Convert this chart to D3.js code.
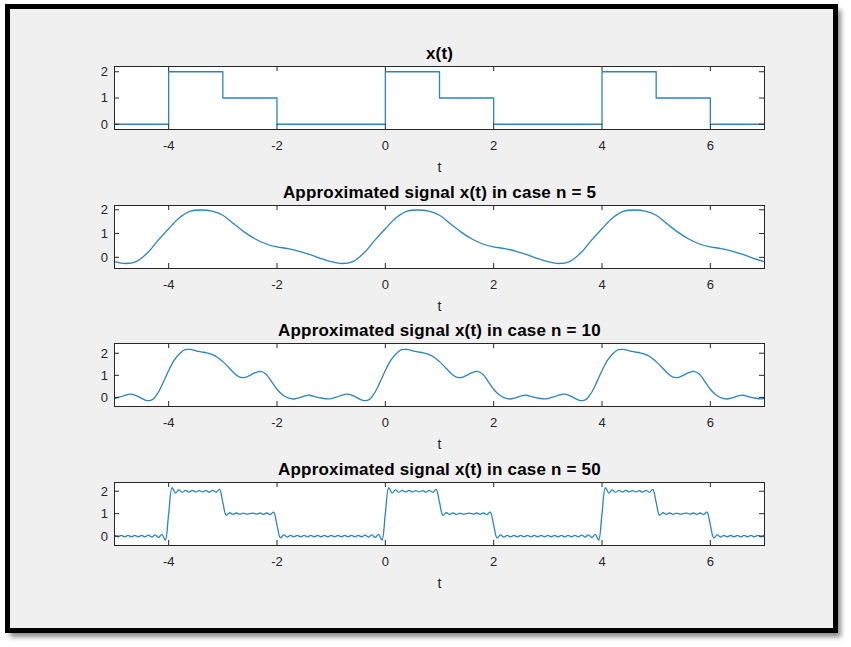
<!DOCTYPE html>
<html>
<head>
<meta charset="utf-8">
<script src="https://cdnjs.cloudflare.com/ajax/libs/d3/7.8.5/d3.min.js"></script>
<style>
	html, body { margin: 0; padding: 0; background: #fff; }
	svg { display: block; }
	text { font-family: "Liberation Sans", Arial, Helvetica, sans-serif; }
</style>
</head>
<body>
<div class="chart"></div>
<script>
(function (){

	// Tick values shared by all four panels
	var xTicks = [-4, -2, 0, 2, 4, 6];
	var yTicks = [0, 1, 2];

	var titles = [
		"x(t)",
		"Approximated signal x(t) in case n = 5",
		"Approximated signal x(t) in case n = 10",
		"Approximated signal x(t) in case n = 50"
	];

	// y limits
	var yLimits = [[-0.2, 2.2], [-0.47, 2.18], [-0.41, 2.44], [-0.42, 2.39]];

	// x(t): breakpoints and the level that starts at each one
	var signalBreaks = [-5, -4, -3, -2, 0, 1, 2, 4, 5, 6, 7];
	var signalLevels = [0, 2, 1, 0, 2, 1, 0, 2, 1, 0, 0];

	// n = 5, sampled every 0.2 from t = -5
	var approx5Start = -5, approx5Step = 0.2;
	var approx5 = [
		-0.18, -0.26, -0.18, 0.17, 0.70,
		1.20, 1.66, 1.94, 1.99, 1.94, 1.77, 1.41, 1.06, 0.77, 0.56,
		0.44, 0.37, 0.26, 0.12, -0.04, -0.18, -0.26, -0.18, 0.17, 0.70,
		1.20, 1.66, 1.94, 1.99, 1.94, 1.77, 1.41, 1.06, 0.77, 0.56,
		0.44, 0.37, 0.26, 0.12, -0.04, -0.18, -0.26, -0.18, 0.17, 0.70,
		1.20, 1.66, 1.94, 1.99, 1.94, 1.77, 1.41, 1.06, 0.77, 0.56,
		0.44, 0.37, 0.26, 0.12, -0.04, -0.18
	];

	// n = 10, sampled every 0.1 from t = -5
	var approx10Start = -5, approx10Step = 0.1;
	var approx10 = [
		-0.05, 0.02, 0.10, 0.15, 0.08, -0.04, -0.14, -0.10, 0.20, 0.68,
		1.22, 1.68, 1.98, 2.16, 2.17, 2.11, 2.06, 2.02, 1.95, 1.82,
		1.62, 1.38, 1.12, 0.93, 0.90, 1.00, 1.12, 1.18, 1.05, 0.72,
		0.37, 0.12, -0.02, -0.07, -0.02, 0.06, 0.10, 0.04, -0.02, -0.06,
		-0.05, 0.02, 0.10, 0.15, 0.08, -0.04, -0.14, -0.10, 0.20, 0.68,
		1.22, 1.68, 1.98, 2.16, 2.17, 2.11, 2.06, 2.02, 1.95, 1.82,
		1.62, 1.38, 1.12, 0.93, 0.90, 1.00, 1.12, 1.18, 1.05, 0.72,
		0.37, 0.12, -0.02, -0.07, -0.02, 0.06, 0.10, 0.04, -0.02, -0.06,
		-0.05, 0.02, 0.10, 0.15, 0.08, -0.04, -0.14, -0.10, 0.20, 0.68,
		1.22, 1.68, 1.98, 2.16, 2.17, 2.11, 2.06, 2.02, 1.95, 1.82,
		1.62, 1.38, 1.12, 0.93, 0.90, 1.00, 1.12, 1.18, 1.05, 0.72,
		0.37, 0.12, -0.02, -0.07, -0.02, 0.06, 0.10, 0.04, -0.02, -0.06,
		-0.05
	];

	// n = 50, sampled every 1/16 from t = -5
	var approx50Start = -5, approx50Step = 0.0625;
	var approx50 = [
		0.03, -0.03, 0.03, -0.03, 0.03, -0.03, 0.03, -0.03, 0.03, -0.03, 0.04, -0.04, 0.05, -0.06, 0.08, -0.18,
		1.00, 2.16, 1.92, 2.06, 1.95, 2.04, 1.96, 2.04, 1.97, 2.03, 1.97, 2.03, 1.96, 2.04, 1.95, 2.08,
		1.50, 0.93, 1.04, 0.97, 1.03, 0.97, 1.02, 0.98, 1.00, 1.02, 0.98, 1.03, 0.97, 1.03, 0.96, 1.07,
		0.50, -0.08, 0.05, -0.04, 0.03, -0.03, 0.03, -0.03, 0.03, -0.03, 0.03, -0.03, 0.03, -0.03, 0.03, -0.03,
		0.03, -0.03, 0.03, -0.03, 0.03, -0.03, 0.03, -0.03, 0.03, -0.03, 0.04, -0.04, 0.05, -0.06, 0.08, -0.18,
		1.00, 2.16, 1.92, 2.06, 1.95, 2.04, 1.96, 2.04, 1.97, 2.03, 1.97, 2.03, 1.96, 2.04, 1.95, 2.08,
		1.50, 0.93, 1.04, 0.97, 1.03, 0.97, 1.02, 0.98, 1.00, 1.02, 0.98, 1.03, 0.97, 1.03, 0.96, 1.07,
		0.50, -0.08, 0.05, -0.04, 0.03, -0.03, 0.03, -0.03, 0.03, -0.03, 0.03, -0.03, 0.03, -0.03, 0.03, -0.03,
		0.03, -0.03, 0.03, -0.03, 0.03, -0.03, 0.03, -0.03, 0.03, -0.03, 0.04, -0.04, 0.05, -0.06, 0.08, -0.18,
		1.00, 2.16, 1.92, 2.06, 1.95, 2.04, 1.96, 2.04, 1.97, 2.03, 1.97, 2.03, 1.96, 2.04, 1.95, 2.08,
		1.50, 0.93, 1.04, 0.97, 1.03, 0.97, 1.02, 0.98, 1.00, 1.02, 0.98, 1.03, 0.97, 1.03, 0.96, 1.07,
		0.50, -0.08, 0.05, -0.04, 0.03, -0.03, 0.03, -0.03, 0.03, -0.03, 0.03, -0.03, 0.03, -0.03, 0.03, -0.03,
		0.03
	];

	// Page and panel geometry
	var width = 851, height = 647;
	var plotLeft = 114, plotWidth = 650, plotHeight = 63;
	var plotTops = [66, 205, 343, 482];
	var tickLen = 5;
	var axisColor = "#262626", lineColor = "#2a84c8";

	function sampled(values, start, step){
		return values.map(function(v, k){ return { t: start + k * step, v: v }; });
	}

	var series = [
		{ points: signalBreaks.map(function(t, k){ return { t: t, v: signalLevels[k] }; }), curve: d3.curveStepAfter },
		{ points: sampled(approx5, approx5Start, approx5Step), curve: d3.curveCatmullRom },
		{ points: sampled(approx10, approx10Start, approx10Step), curve: d3.curveCatmullRom },
		{ points: sampled(approx50, approx50Start, approx50Step), curve: d3.curveCatmullRom }
	];

	var svg = d3.select(".chart")
		.append("svg")
		.attr("width", width)
		.attr("height", height);

	var defs = svg.append("defs");

	// Soft shadow behind the framed figure
	defs.append("filter")
		.attr("id", "shadow")
		.attr("x", "-5%").attr("y", "-5%").attr("width", "110%").attr("height", "110%")
		.append("feGaussianBlur")
		.attr("stdDeviation", 2.5);

	svg.append("rect")
		.attr("x", 10).attr("y", 10)
		.attr("width", 831).attr("height", 627)
		.attr("fill", "#000")
		.attr("opacity", 0.45)
		.attr("filter", "url(#shadow)");

	svg.append("rect")
		.attr("x", 7.5).attr("y", 6.5)
		.attr("width", 828).attr("height", 624)
		.attr("fill", "#f0f0f0")
		.attr("stroke", "#000")
		.attr("stroke-width", 5);

	// Horizontal scale, the same for every panel
	var xScale = d3.scaleLinear()
		.domain([-5, 7])
		.range([0, plotWidth]);

	function drawPanel(i){
		var yScale = d3.scaleLinear()
			.domain(yLimits[i])
			.range([plotHeight, 0]);

		var g = svg.append("g")
			.attr("transform", "translate(" + plotLeft + "," + plotTops[i] + ")");

		g.append("rect")
			.attr("x", 0.5).attr("y", 0.5)
			.attr("width", plotWidth).attr("height", plotHeight)
			.attr("fill", "#fff");

		defs.append("clipPath")
			.attr("id", "clip" + i)
			.append("rect")
			.attr("x", 0.5).attr("y", 0.5)
			.attr("width", plotWidth).attr("height", plotHeight);

		var line = d3.line()
			.x(function(d){ return xScale(d.t) + 0.5; })
			.y(function(d){ return yScale(d.v) + 0.5; })
			.curve(series[i].curve);

		g.append("path")
			.datum(series[i].points)
			.attr("clip-path", "url(#clip" + i + ")")
			.attr("fill", "none")
			.attr("stroke", lineColor)
			.attr("stroke-width", 1.3)
			.attr("stroke-linejoin", "round")
			.attr("d", line);

		// Inward ticks on all four sides, labels only bottom and left
		var bottomAxis = g.append("g")
			.attr("transform", "translate(0," + plotHeight + ")")
			.call(d3.axisBottom(xScale).tickValues(xTicks).tickSize(-tickLen).tickPadding(11.3)
				.tickFormat(function(d){ return String(d); }));

		var topAxis = g.append("g")
			.call(d3.axisTop(xScale).tickValues(xTicks).tickSize(-tickLen).tickFormat(""));

		var leftAxis = g.append("g")
			.call(d3.axisLeft(yScale).tickValues(yTicks).tickSize(-tickLen).tickPadding(6)
				.tickFormat(function(d){ return String(d); }));

		var rightAxis = g.append("g")
			.attr("transform", "translate(" + plotWidth + ",0)")
			.call(d3.axisRight(yScale).tickValues(yTicks).tickSize(-tickLen).tickFormat(""));

		[bottomAxis, topAxis, leftAxis, rightAxis].forEach(function(a){
			a.select(".domain").remove();
			a.selectAll("line").attr("stroke", axisColor);
			a.selectAll("text")
				.attr("fill", axisColor)
				.style("font-size", "13px")
				.style("font-family", "'Liberation Sans', Arial, sans-serif");
		});
		leftAxis.selectAll("text").attr("dy", "0.34em");

		// Box around the axes
		g.append("rect")
			.attr("x", 0.5).attr("y", 0.5)
			.attr("width", plotWidth).attr("height", plotHeight)
			.attr("fill", "none")
			.attr("stroke", axisColor)
			.attr("stroke-width", 1);

		// Title
		g.append("text")
			.attr("x", plotWidth / 2 + 0.5)
			.attr("y", -7)
			.attr("text-anchor", "middle")
			.attr("fill", "#000")
			.style("font-size", "17px")
			.style("letter-spacing", "0.2px")
			.style("font-weight", "bold")
			.text(titles[i]);

		// x axis label
		g.append("text")
			.attr("x", plotWidth / 2 + 0.5)
			.attr("y", plotHeight + 42.5)
			.attr("text-anchor", "middle")
			.attr("fill", axisColor)
			.style("font-size", "14px")
			.text("t");
	}

	for (var i = 0; i < 4; i++) { drawPanel(i); }
})();
</script>
</body>
</html>
